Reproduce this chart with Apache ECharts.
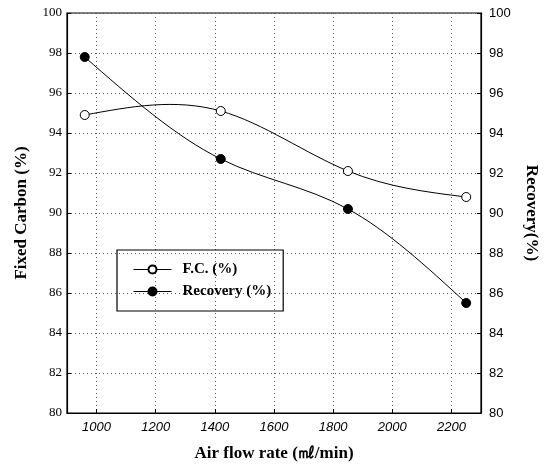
<!DOCTYPE html>
<html><head><meta charset="utf-8">
<script src="https://cdn.jsdelivr.net/npm/echarts@6/dist/echarts.min.js"></script>
<style>html,body{margin:0;padding:0;background:#fff}#c{width:550px;height:473px}</style>
</head><body><div id="c"></div>
<script>
const airFlow = [960, 1420, 1850, 2250];
const fixedCarbon = [94.9, 95.1, 92.1, 90.8];
const recovery = [97.8, 92.7, 90.2, 85.5];
const xTicks = [1000, 1200, 1400, 1600, 1800, 2000, 2200];
const seriesNames = ['F.C. (%)', 'Recovery (%)'];
const xTitle = 'Air flow rate (\u3396/min)';
const yLeftTitle = 'Fixed Carbon (%)';
const yRightTitle = 'Recovery(%)';

const serif = '"Liberation Serif", "Times New Roman", serif';
const sans = '"Liberation Sans", Arial, sans-serif';
const chart = echarts.init(document.getElementById('c'), null, {renderer: 'canvas'});
const pairs = (xs, ys) => xs.map((x, i) => [x, ys[i]]);

// natural cubic spline through the data points, expressed as cubic Bezier segments (data space)
function splineSegments(xs, ys) {
  const n = xs.length, h = [], d = [];
  for (let i = 0; i < n - 1; i++) { h[i] = xs[i + 1] - xs[i]; d[i] = (ys[i + 1] - ys[i]) / h[i]; }
  const M = new Array(n).fill(0), a = [], b = [], c = [], r = [];
  for (let i = 1; i < n - 1; i++) { a[i] = h[i - 1]; b[i] = 2 * (h[i - 1] + h[i]); c[i] = h[i]; r[i] = 6 * (d[i] - d[i - 1]); }
  for (let i = 2; i < n - 1; i++) { const m = a[i] / b[i - 1]; b[i] -= m * c[i - 1]; r[i] -= m * r[i - 1]; }
  for (let i = n - 2; i >= 1; i--) { M[i] = (r[i] - c[i] * M[i + 1]) / b[i]; }
  const segs = [];
  for (let i = 0; i < n - 1; i++) {
    const s0 = d[i] - h[i] * (2 * M[i] + M[i + 1]) / 6;
    const s1 = d[i] + h[i] * (M[i] + 2 * M[i + 1]) / 6;
    segs.push([[xs[i], ys[i]], [xs[i] + h[i] / 3, ys[i] + s0 * h[i] / 3],
               [xs[i + 1] - h[i] / 3, ys[i + 1] - s1 * h[i] / 3], [xs[i + 1], ys[i + 1]]]);
  }
  return segs;
}
function curveRenderer(xs, ys) {
  const segs = splineSegments(xs, ys);
  return function (params, api) {
    if (params.dataIndex !== 0) return null;
    return {
      type: 'group',
      children: segs.map(s => {
        const p = s.map(v => api.coord(v));
        return {type: 'bezierCurve',
          shape: {x1: p[0][0], y1: p[0][1], cpx1: p[1][0], cpy1: p[1][1], cpx2: p[2][0], cpy2: p[2][1], x2: p[3][0], y2: p[3][1]},
          style: {stroke: '#000', lineWidth: 1, fill: null}};
      })
    };
  };
}

const dotted = {show: true, lineStyle: {color: '#555', type: [1, 3], width: 1}};
chart.setOption({
  animation: false,
  backgroundColor: '#fff',
  grid: {left: 67, right: 69, top: 13, bottom: 60, show: true, borderColor: '#000', borderWidth: 1.2, backgroundColor: 'transparent'},
  legend: {
    orient: 'vertical', left: 117, top: 250,
    borderColor: '#000', borderWidth: 1.2,
    padding: [12, 12, 12, 16], itemGap: 7,
    itemWidth: 38, itemHeight: 10,
    lineStyle: {opacity: 1, color: '#000', width: 1},
    textStyle: {fontFamily: serif, fontWeight: 'bold', fontSize: 15, color: '#000', padding: [0, 0, 0, 6]},
    data: seriesNames
  },
  xAxis: {
    type: 'value', min: 900, max: 2300,
    name: xTitle, nameLocation: 'middle', nameGap: 32,
    nameTextStyle: {fontFamily: serif, fontWeight: 'bold', fontSize: 17, color: '#000'},
    axisLine: {show: true, lineStyle: {color: '#000', width: 1.2}},
    axisTick: {show: true, inside: true, length: 4, customValues: xTicks, lineStyle: {color: '#000'}},
    axisLabel: {customValues: xTicks, formatter: v => String(v), fontFamily: sans, fontStyle: 'italic', fontSize: 13, color: '#000', margin: 8},
    splitLine: dotted
  },
  yAxis: [{
    type: 'value', min: 80, max: 100, interval: 2, position: 'left',
    name: yLeftTitle, nameLocation: 'middle', nameGap: 37, nameRotate: 90,
    nameTextStyle: {fontFamily: serif, fontWeight: 'bold', fontSize: 17, color: '#000'},
    axisLine: {show: true, lineStyle: {color: '#000', width: 1.2}},
    axisTick: {show: true, inside: true, length: 4, lineStyle: {color: '#000'}},
    axisLabel: {fontFamily: serif, fontSize: 13, color: '#000', margin: 5},
    splitLine: dotted
  }, {
    type: 'value', min: 80, max: 100, interval: 2, position: 'right',
    name: yRightTitle, nameLocation: 'middle', nameGap: 42, nameRotate: -90,
    nameTextStyle: {fontFamily: serif, fontWeight: 'bold', fontSize: 17, color: '#000'},
    axisLine: {show: true, lineStyle: {color: '#000', width: 1.2}},
    axisTick: {show: true, inside: true, length: 4, lineStyle: {color: '#000'}},
    axisLabel: {fontFamily: sans, fontSize: 13, color: '#000', margin: 8},
    splitLine: {show: false}
  }],
  series: [{
    name: 'fc-curve', type: 'custom', yAxisIndex: 0, z: 1, clip: false,
    data: pairs(airFlow, fixedCarbon), encode: {x: 0, y: 1},
    renderItem: curveRenderer(airFlow, fixedCarbon)
  }, {
    name: 'rec-curve', type: 'custom', yAxisIndex: 1, z: 1, clip: false,
    data: pairs(airFlow, recovery), encode: {x: 0, y: 1},
    renderItem: curveRenderer(airFlow, recovery)
  }, {
    name: seriesNames[0], type: 'line', yAxisIndex: 0, z: 3,
    data: pairs(airFlow, fixedCarbon),
    symbol: 'circle', symbolSize: 9, showAllSymbol: true,
    lineStyle: {color: '#000', width: 1, opacity: 0},
    itemStyle: {color: '#fff', borderColor: '#000', borderWidth: 1}
  }, {
    name: seriesNames[1], type: 'line', yAxisIndex: 1, z: 3,
    data: pairs(airFlow, recovery),
    symbol: 'circle', symbolSize: 9, showAllSymbol: true,
    lineStyle: {color: '#000', width: 1, opacity: 0},
    itemStyle: {color: '#000', borderColor: '#000', borderWidth: 1}
  }]
});
</script></body></html>
